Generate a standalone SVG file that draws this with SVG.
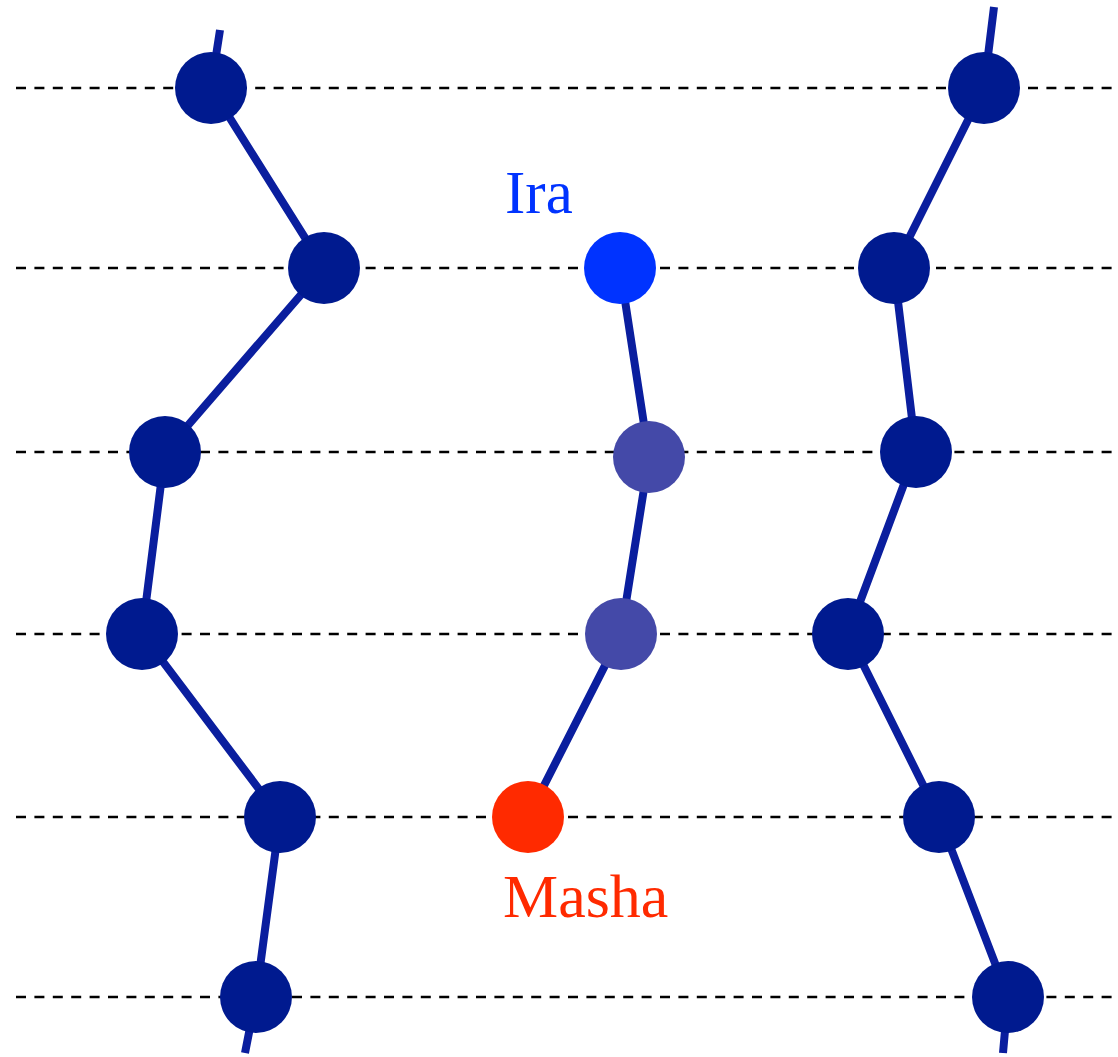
<svg xmlns="http://www.w3.org/2000/svg" width="1118" height="1057" viewBox="0 0 1118 1057">
<style>
.grid{stroke:#000;stroke-width:2.4;stroke-dasharray:10 8.4;fill:none}
.edge{stroke:#0a1e9e;stroke-width:8;fill:none}
.node{fill:#001a8f}
.mid{fill:#4449a8}
.lbl{font-family:"Liberation Serif","Times New Roman",serif;font-size:61px}
</style>
<rect width="1118" height="1057" fill="#fff"/>
<g id="grid">
<line class="grid" x1="16" y1="88" x2="1112" y2="88"/>
<line class="grid" x1="16" y1="268" x2="1112" y2="268"/>
<line class="grid" x1="16" y1="452" x2="1112" y2="452"/>
<line class="grid" x1="16" y1="634" x2="1112" y2="634"/>
<line class="grid" x1="16" y1="817" x2="1112" y2="817"/>
<line class="grid" x1="16" y1="997" x2="1112" y2="997"/>
</g>
<g id="connectors">
<polyline class="edge" points="220,30 211,88 324,268 165,452 142,634 280,817 256,997 245,1053"/>
<polyline class="edge" points="620,268 649,457 621,634 528,817"/>
<polyline class="edge" points="994,7 984,88 894,268 916,452 848,634 939,817 1008,997 1003,1053"/>
</g>
<g id="L1"><circle class="node" cx="211" cy="88" r="36"/></g>
<g id="L2"><circle class="node" cx="324" cy="268" r="36"/></g>
<g id="L3"><circle class="node" cx="165" cy="452" r="36"/></g>
<g id="L4"><circle class="node" cx="142" cy="634" r="36"/></g>
<g id="L5"><circle class="node" cx="280" cy="817" r="36"/></g>
<g id="L6"><circle class="node" cx="256" cy="997" r="36"/></g>
<g id="ira"><circle cx="620" cy="268" r="36" fill="#0033ff"/><text class="lbl" x="505" y="213" fill="#0033ff">Ira</text></g>
<g id="M2"><circle class="mid" cx="649" cy="457" r="36"/></g>
<g id="M3"><circle class="mid" cx="621" cy="634" r="36"/></g>
<g id="masha"><circle cx="528" cy="817" r="36" fill="#ff2a00"/><text class="lbl" x="503" y="917" fill="#ff2a00" style="font-size:62px">Masha</text></g>
<g id="R1"><circle class="node" cx="984" cy="88" r="36"/></g>
<g id="R2"><circle class="node" cx="894" cy="268" r="36"/></g>
<g id="R3"><circle class="node" cx="916" cy="452" r="36"/></g>
<g id="R4"><circle class="node" cx="848" cy="634" r="36"/></g>
<g id="R5"><circle class="node" cx="939" cy="817" r="36"/></g>
<g id="R6"><circle class="node" cx="1008" cy="997" r="36"/></g>
</svg>
